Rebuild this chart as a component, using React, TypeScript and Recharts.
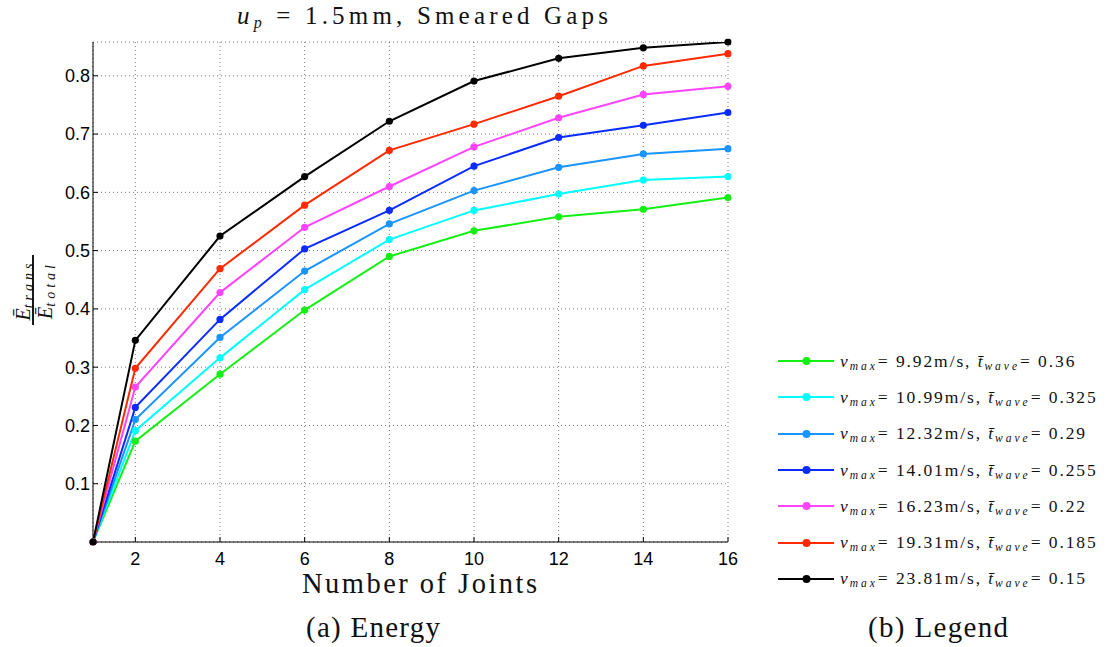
import { LineChart, Line, XAxis, YAxis, CartesianGrid, Legend } from "recharts";

// number of joints (x) and the energy ratio
const joints = [1, 2, 4, 6, 8, 10, 12, 14, 16];

const green = [0, 0.173, 0.288, 0.398, 0.49, 0.534, 0.558, 0.571, 0.591];
const cyan = [0, 0.191, 0.316, 0.433, 0.519, 0.569, 0.597, 0.621, 0.627];
const lightBlue = [0, 0.21, 0.351, 0.465, 0.546, 0.603, 0.643, 0.666, 0.675];
const blue = [0, 0.231, 0.382, 0.503, 0.569, 0.645, 0.694, 0.715, 0.737];
const magenta = [0, 0.266, 0.428, 0.54, 0.61, 0.678, 0.728, 0.768, 0.782];
const red = [0, 0.298, 0.469, 0.578, 0.672, 0.717, 0.765, 0.817, 0.838];
const black = [0, 0.346, 0.525, 0.627, 0.722, 0.791, 0.83, 0.848, 0.858];

const vmaxLabels = ["9.92", "10.99", "12.32", "14.01", "16.23", "19.31", "23.81"];
const twaveLabels = ["0.36", "0.325", "0.29", "0.255", "0.22", "0.185", "0.15"];

const xTicks = [2, 4, 6, 8, 10, 12, 14, 16];
const yTicks = [0.1, 0.2, 0.3, 0.4, 0.5, 0.6, 0.7, 0.8];

const series = [
    { key: "s0", values: green, color: "#14f014" },
    { key: "s1", values: cyan, color: "#00ffff" },
    { key: "s2", values: lightBlue, color: "#1a94ff" },
    { key: "s3", values: blue, color: "#0a2cff" },
    { key: "s4", values: magenta, color: "#ff44ff" },
    { key: "s5", values: red, color: "#ff2a00" },
    { key: "s6", values: black, color: "#000000" },
];

const data = joints.map((j, i) => {
    const row: any = { joints: j };
    series.forEach(s => { row[s.key] = s.values[i]; });
    return row;
});

const SERIF = "'Liberation Serif', 'DejaVu Serif', serif";
const SANS = "'Liberation Sans', Arial, sans-serif";

const subStyle = { fontSize: 11.5, position: "relative" as const, top: 3, letterSpacing: 3 };

const renderLegend = () => (
    <div style={{ fontFamily: SERIF, fontSize: 17.5, color: "#111" }}>
        {series.map((s, i) => (
            <div key={s.key} style={{ display: "flex", alignItems: "center", height: 36.3, whiteSpace: "nowrap" }}>
                <svg width={58} height={12} style={{ display: "block" }}>
                    <line x1={2} x2={58} y1={6} y2={6} stroke={s.color} strokeWidth={2} />
                    <circle cx={30.5} cy={6} r={4} fill={s.color} />
                </svg>
                <span style={{ marginLeft: 6, letterSpacing: 1.9 }}>
                    <i>v</i>
                    <i style={subStyle}>max</i>
                    {"= " + vmaxLabels[i] + "m/s, "}
                    <i>t&#772;</i>
                    <i style={subStyle}>wave</i>
                    {"= " + twaveLabels[i]}
                </span>
            </div>
        ))}
    </div>
);

// title, axis names and captions drawn on top of the chart
function Overlay() {
    return (
        <svg
            width={1108}
            height={647}
            style={{ position: "absolute", left: 0, top: 0, pointerEvents: "none" }}
            fontFamily={SERIF}
            fill="#111"
        >
            <text x={237} y={24} fontSize={25} textLength={371} lengthAdjust="spacing">
                <tspan fontStyle="italic">u</tspan>
                <tspan fontStyle="italic" fontSize={16} dy={4}>p</tspan>
                <tspan dy={-4}>{" = 1.5mm, Smeared Gaps"}</tspan>
            </text>

            <g style={{ transform: "rotate(-90deg)", transformOrigin: "33px 290px", transformBox: "view-box" }}>
                <text x={33} y={287} textAnchor="middle" fontSize={20}>
                    <tspan fontStyle="italic">Ē</tspan>
                    <tspan fontStyle="italic" fontSize={14} dy={3} letterSpacing={4}>trans</tspan>
                </text>
                <line x1={-2} x2={68} y1={290} y2={290} stroke="#000" strokeWidth={1.8} />
                <text x={33} y={309} textAnchor="middle" fontSize={20}>
                    <tspan fontStyle="italic">Ē</tspan>
                    <tspan fontStyle="italic" fontSize={14} dy={3} letterSpacing={4}>total</tspan>
                </text>
            </g>

            <text x={302} y={593} fontSize={28.5} textLength={235} lengthAdjust="spacing">
                Number of Joints
            </text>
            <text x={306} y={637} fontSize={29} textLength={134} lengthAdjust="spacing">
                (a) Energy
            </text>
            <text x={868} y={637} fontSize={29} textLength={140} lengthAdjust="spacing">
                (b) Legend
            </text>
        </svg>
    );
}

export default function App() {
    return (
        <div style={{ position: "absolute", left: 0, top: 0, width: 1108, height: 647 }}>
            <LineChart
                width={1108}
                height={647}
                data={data}
                margin={{ top: 42, right: 380, bottom: 75, left: 43 }}
            >
                <CartesianGrid stroke="#777" strokeDasharray="1 3" />
                <XAxis
                    dataKey="joints"
                    type="number"
                    domain={[1, 16]}
                    ticks={xTicks}
                    allowDataOverflow
                    height={30}
                    tickSize={-5}
                    tickMargin={15}
                    stroke="#000"
                    tick={{ fill: "#000", fontSize: 18, fontFamily: SANS }}
                />
                <YAxis
                    type="number"
                    domain={[0, 0.858]}
                    ticks={yTicks}
                    allowDataOverflow
                    width={50}
                    tickSize={-5}
                    tickMargin={8}
                    stroke="#000"
                    tick={{ fill: "#000", fontSize: 18, fontFamily: SANS }}
                />
                <Legend
                    layout="vertical"
                    align="center"
                    verticalAlign="middle"
                    content={renderLegend}
                    wrapperStyle={{ left: 776, top: 343, width: 332 }}
                />
                {series.map(s => (
                    <Line
                        key={s.key}
                        type="linear"
                        dataKey={s.key}
                        stroke={s.color}
                        strokeWidth={2}
                        dot={{ r: 3.6, fill: s.color, stroke: s.color, strokeWidth: 0, clipDot: false }}
                        activeDot={false}
                        isAnimationActive={false}
                    />
                ))}
            </LineChart>
            <Overlay />
        </div>
    );
}
